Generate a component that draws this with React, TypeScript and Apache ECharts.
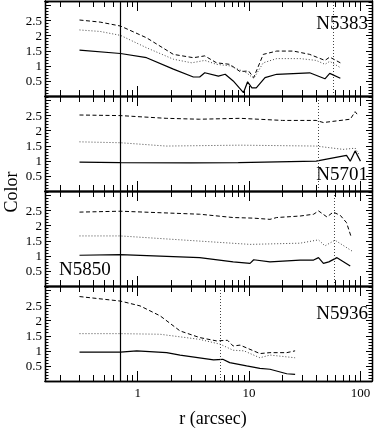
import React, { useEffect, useRef, useState } from "react";
import * as echarts from "echarts";

// ---- data ----
const galaxyNames = ["N5383", "N5701", "N5850", "N5936"];

// N5383
const n5383DashedR = [0.3, 0.46, 0.7, 1.2, 2.09, 3.16, 4.0, 5.1, 6.7, 8.3, 9.9, 11, 13.4, 17.7, 25, 35, 48, 53, 66];
const n5383DashedC = [2.52, 2.45, 2.32, 1.93, 1.38, 1.27, 1.33, 1.1, 1.05, 0.81, 0.83, 0.61, 1.38, 1.49, 1.49, 1.38, 1.18, 1.29, 1.1];
const n5383DottedR = [0.3, 0.46, 0.7, 1.2, 2.09, 3.05, 4.0, 5.1, 6.7, 9.5, 11, 13.4, 17.7, 28.7, 40, 48, 53, 66];
const n5383DottedC = [2.19, 2.14, 2.01, 1.6, 1.22, 1.1, 1.18, 1.05, 1.0, 0.77, 0.58, 1.1, 1.24, 1.24, 1.18, 1.05, 1.15, 0.94];
const n5383SolidR = [0.3, 0.7, 1.2, 2.09, 3.16, 3.6, 4.0, 5.3, 6.1, 7.2, 8.9, 9.7, 10.6, 11.6, 13.9, 17.7, 35, 48, 53, 66];
const n5383SolidC = [1.52, 1.41, 1.27, 0.89, 0.63, 0.63, 0.77, 0.66, 0.72, 0.5, 0.11, 0.47, 0.27, 0.27, 0.61, 0.72, 0.77, 0.57, 0.75, 0.59];

// N5701
const n5701DashedR = [0.3, 0.7, 1.8, 3.6, 8.3, 20, 40, 46.5, 81, 89.6, 96];
const n5701DashedC = [2.52, 2.5, 2.41, 2.38, 2.41, 2.34, 2.34, 2.27, 2.38, 2.63, 2.49];
const n5701DottedR = [0.3, 0.7, 1.8, 8.3, 40, 70, 89.6, 98];
const n5701DottedC = [1.63, 1.6, 1.49, 1.52, 1.49, 1.38, 1.42, 1.19];
const n5701SolidR = [0.3, 0.7, 3, 8, 40, 57, 75, 81, 89.6, 100];
const n5701SolidC = [0.96, 0.94, 0.93, 0.94, 0.99, 1.1, 1.18, 0.99, 1.33, 0.99];

// N5850
const n5850DashedR = [0.3, 0.7, 3.6, 7.2, 11, 15.4, 17.7, 28.7, 38, 42, 50, 57, 66, 75, 82];
const n5850DashedC = [2.45, 2.48, 2.38, 2.27, 2.25, 2.21, 2.27, 2.32, 2.38, 2.49, 2.29, 2.45, 2.34, 2.1, 1.66];
const n5850DottedR = [0.3, 0.7, 10.2, 28.7, 42, 48, 59, 84];
const n5850DottedC = [1.66, 1.66, 1.38, 1.42, 1.53, 1.33, 1.52, 1.16];
const n5850SolidR = [0.3, 0.7, 3.6, 7.2, 10.2, 11, 15.4, 28.7, 38, 42, 46.5, 52, 61.6, 81];
const n5850SolidC = [1.02, 1.04, 0.94, 0.8, 0.75, 0.87, 0.8, 0.86, 0.86, 0.94, 0.75, 0.8, 0.94, 0.66];

// N5936
const n5936DashedR = [0.3, 0.7, 1.05, 1.59, 2.4, 3.6, 5.1, 6.4, 7.2, 8.3, 12.5, 15.4, 21.8, 25.9];
const n5936DashedC = [2.8, 2.65, 2.49, 2.16, 1.66, 1.44, 1.33, 1.35, 1.16, 1.19, 0.91, 0.94, 0.94, 1.0];
const n5936DottedR = [0.3, 0.7, 1.59, 3.6, 5.5, 7.2, 9, 12.5, 15.4, 25.9];
const n5936DottedC = [1.57, 1.57, 1.55, 1.38, 1.22, 1.02, 1.0, 0.77, 0.86, 0.77];
const n5936SolidR = [0.3, 0.7, 0.98, 1.82, 2.4, 4.8, 5.8, 6.7, 9.5, 12.5, 15.4, 21.8, 25.9];
const n5936SolidC = [0.96, 0.96, 1.0, 0.94, 0.86, 0.7, 0.72, 0.61, 0.5, 0.42, 0.39, 0.24, 0.22];

// vertical reference lines
const solidMarkR = 0.7;
const dottedMarkR = [57, 41.4, 58, 5.5];

// axis ticks
const xMin = 0.147;
const xMax = 127;
const yMin = 0;
const yMax = 3.15;
const xMajorTicks = [1, 10, 100];
const xMinorTicks = [0.2, 0.3, 0.4, 0.5, 0.6, 0.7, 0.8, 0.9, 2, 3, 4, 5, 6, 7, 8, 9, 20, 30, 40, 50, 60, 70, 80, 90];
const yMajorTicks = [0.5, 1, 1.5, 2, 2.5, 3];
const yTickLabels = [0.5, 1, 1.5, 2, 2.5];
const yMinorTicks = [0.1, 0.2, 0.3, 0.4, 0.6, 0.7, 0.8, 0.9, 1.1, 1.2, 1.3, 1.4, 1.6, 1.7, 1.8, 1.9, 2.1, 2.2, 2.3, 2.4, 2.6, 2.7, 2.8, 2.9, 3.1];

const panels = [
  { name: galaxyNames[0], dashed: [n5383DashedR, n5383DashedC], dotted: [n5383DottedR, n5383DottedC], solid: [n5383SolidR, n5383SolidC] },
  { name: galaxyNames[1], dashed: [n5701DashedR, n5701DashedC], dotted: [n5701DottedR, n5701DottedC], solid: [n5701SolidR, n5701SolidC] },
  { name: galaxyNames[2], dashed: [n5850DashedR, n5850DashedC], dotted: [n5850DottedR, n5850DottedC], solid: [n5850SolidR, n5850SolidC] },
  { name: galaxyNames[3], dashed: [n5936DashedR, n5936DashedC], dotted: [n5936DottedR, n5936DottedC], solid: [n5936SolidR, n5936SolidC] },
];

const FONT = "Liberation Serif";

function pairs(r: number[], c: number[]) {
  return r.map((x, i) => [x, c[i]]);
}

function buildOption() {
  const grids: any[] = [];
  const xAxes: any[] = [];
  const yAxes: any[] = [];
  const series: any[] = [];
  panels.forEach((p, i) => {
    grids.push({ left: 45, right: 10, top: 1 + 95 * i, height: 95 });
    const mkX = (position: string, ticks: number[], len: number, labels: boolean) => ({
      type: "log",
      gridIndex: i,
      position,
      min: xMin,
      max: xMax,
      axisLine: { show: true, onZero: false, lineStyle: { color: "#000", width: 1.3 } },
      axisTick: { show: true, inside: true, length: len, customValues: ticks, lineStyle: { color: "#000", width: 1 } },
      axisLabel: labels
        ? { show: true, customValues: xMajorTicks, margin: 5, color: "#000", fontFamily: FONT, fontSize: 13 }
        : { show: false },
      splitLine: { show: false },
    });
    xAxes.push(mkX("bottom", xMajorTicks, 10, i === 3));
    xAxes.push(mkX("bottom", xMinorTicks, 6, false));
    xAxes.push(mkX("top", xMajorTicks, 10, false));
    xAxes.push(mkX("top", xMinorTicks, 6, false));
    const mkY = (position: string, ticks: number[], len: number, labels: boolean) => ({
      type: "value",
      gridIndex: i,
      position,
      min: yMin,
      max: yMax,
      axisLine: { show: true, onZero: false, lineStyle: { color: "#000", width: 1.3 } },
      axisTick: { show: true, inside: true, length: len, customValues: ticks, lineStyle: { color: "#000", width: 1 } },
      axisLabel: labels
        ? { show: true, customValues: yTickLabels, margin: 3, color: "#000", fontFamily: FONT, fontSize: 13 }
        : { show: false },
      splitLine: { show: false },
    });
    yAxes.push(mkY("left", yMajorTicks, 6, true));
    yAxes.push(mkY("left", yMinorTicks, 3.5, false));
    yAxes.push(mkY("right", yMajorTicks, 6, false));
    yAxes.push(mkY("right", yMinorTicks, 3.5, false));

    const base = { type: "line", xAxisIndex: 4 * i, yAxisIndex: 4 * i, showSymbol: false, symbol: "none", silent: true };
    series.push({ ...base, name: p.name + " dashed", data: pairs(p.dashed[0], p.dashed[1]), lineStyle: { color: "#000", width: 1, type: [4, 2.5] } });
    series.push({ ...base, name: p.name + " dotted", data: pairs(p.dotted[0], p.dotted[1]), lineStyle: { color: "#444", width: 1, type: [1, 2] } });
    series.push({
      ...base,
      name: p.name + " solid",
      data: pairs(p.solid[0], p.solid[1]),
      lineStyle: { color: "#000", width: 1.2, type: "solid" },
      markLine: {
        silent: true,
        symbol: "none",
        label: { show: false },
        data: [
          { xAxis: solidMarkR, lineStyle: { color: "#000", width: 1.2, type: "solid" } },
          { xAxis: dottedMarkR[i], lineStyle: { color: "#444", width: 1, type: [1, 2] } },
        ],
      },
    });
  });

  const graphic = [
    { type: "text", right: 14, top: 13, style: { text: panels[0].name, fontFamily: FONT, fontSize: 19, fill: "#000" } },
    { type: "text", right: 14, top: 164, style: { text: panels[1].name, fontFamily: FONT, fontSize: 19, fill: "#000" } },
    { type: "text", left: 59, top: 259, style: { text: panels[2].name, fontFamily: FONT, fontSize: 19, fill: "#000" } },
    { type: "text", right: 14, top: 303, style: { text: panels[3].name, fontFamily: FONT, fontSize: 19, fill: "#000" } },
    { type: "text", x: 11, y: 192, rotation: Math.PI / 2, style: { text: "Color", fontFamily: FONT, fontSize: 18, fill: "#000", align: "center", verticalAlign: "middle" } },
    { type: "text", x: 213, y: 418, style: { text: "r (arcsec)", fontFamily: FONT, fontSize: 18, fill: "#000", align: "center", verticalAlign: "middle" } },
  ];

  return { animation: false, grid: grids, xAxis: xAxes, yAxis: yAxes, series, graphic };
}

export default function App() {
  const ref = useRef<HTMLDivElement>(null);
  const [err, setErr] = useState("");
  useEffect(() => {
    if (!ref.current) return;
    const chart = echarts.init(ref.current, undefined, { renderer: "svg" });
    try {
      chart.setOption(buildOption() as any);
    } catch (e: any) {
      setErr(String(e && e.message ? e.message : e));
    }
    return () => chart.dispose();
  }, []);
  return (
    <div>
      <div ref={ref} style={{ position: "fixed", left: 0, top: 0, width: 382, height: 428 }} />
      {err ? <div style={{ position: "fixed", left: 0, top: 0, fontSize: 9, color: "red" }}>{err}</div> : null}
    </div>
  );
}
